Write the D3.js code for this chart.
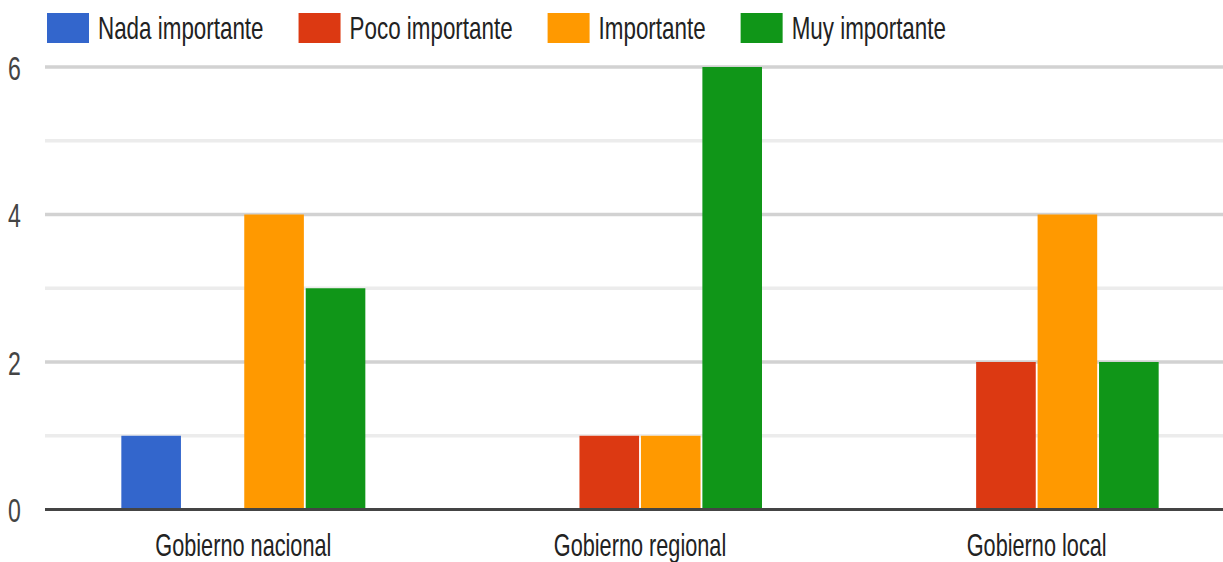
<!DOCTYPE html>
<html>
<head>
<meta charset="utf-8">
<script src="https://cdn.jsdelivr.net/npm/d3@7"></script>
<style>
  html, body { margin: 0; padding: 0; background: #fff; }
  svg { display: block; font-family: "Liberation Sans", Arial, sans-serif; }
</style>
</head>
<body>
<svg id="chart" width="1223" height="562"></svg>
<script>
// Categories (levels of government) and the count for each rating
const categories = ["Gobierno nacional", "Gobierno regional", "Gobierno local"];
const seriesNames = ["Nada importante", "Poco importante", "Importante", "Muy importante"];
const seriesColors = ["#3366cc", "#dc3912", "#ff9900", "#109618"];
const nadaImportante = [1, 0, 0];
const pocoImportante = [0, 1, 2];
const importante     = [4, 1, 4];
const muyImportante  = [3, 6, 2];
const yTickValues = [0, 2, 4, 6];

const seriesValues = [nadaImportante, pocoImportante, importante, muyImportante];

const svg = d3.select("#chart");
const W = 1223, H = 562;
const textScaleX = 0.70; // narrow lettering

const plot = { left: 45, right: 1235, top: 67, bottom: 509.5 };

const x0 = d3.scaleBand().domain(categories).range([plot.left, plot.right]).padding(0);
const groupW = 244;
const x1 = d3.scaleBand().domain(seriesNames).range([0, groupW]).paddingInner(0.03);
const y = d3.scaleLinear().domain([0, 6]).range([plot.bottom, plot.top]);

// gridlines: minor at odd values, major at labelled values
const gridVals = d3.range(1, 7);
svg.append("g").selectAll("line")
  .data(gridVals)
  .join("line")
  .attr("x1", plot.left).attr("x2", W)
  .attr("y1", d => y(d)).attr("y2", d => y(d))
  .attr("stroke", d => d % 2 === 0 ? "#d2d2d2" : "#ececec")
  .attr("stroke-width", 3.5);

// bars
const groups = svg.append("g").selectAll("g")
  .data(categories)
  .join("g")
  .attr("transform", c => `translate(${x0(c) + (x0.bandwidth() - groupW) / 2},0)`);

groups.selectAll("rect")
  .data((c, ci) => seriesNames.map((s, si) => ({ s, si, v: seriesValues[si][ci] })))
  .join("rect")
  .filter(d => d.v > 0)
  .attr("x", d => x1(d.s))
  .attr("width", x1.bandwidth())
  .attr("y", d => y(d.v))
  .attr("height", d => y(0) - y(d.v))
  .attr("fill", d => seriesColors[d.si]);

// baseline
svg.append("line")
  .attr("x1", plot.left).attr("x2", W)
  .attr("y1", y(0)).attr("y2", y(0))
  .attr("stroke", "#444").attr("stroke-width", 3);

// y axis labels (tick groups are placed by the axis; text sits inside them)
const yAxis = d3.axisLeft(y).tickValues(yTickValues).tickSize(0).tickFormat(d3.format("d"));
const yg = svg.append("g").attr("transform", `translate(${plot.left},0)`).call(yAxis);
yg.select(".domain").remove();
yg.selectAll(".tick text")
  .attr("x", 0).attr("y", 0).attr("dy", null)
  .attr("text-anchor", "start")
  .attr("font-size", 33).attr("fill", "#444")
  .attr("transform", `translate(${8 - plot.left},12) scale(${textScaleX},1)`);

// x axis labels
const xAxis = d3.axisBottom(x0).tickSize(0);
const xg = svg.append("g").attr("transform", `translate(0,${plot.bottom})`).call(xAxis);
xg.select(".domain").remove();
xg.selectAll(".tick text")
  .attr("x", 0).attr("y", 0).attr("dy", null)
  .attr("font-size", 31).attr("fill", "#222")
  .attr("transform", `translate(0,46) scale(${textScaleX},1)`);

// legend
const legend = svg.append("g");
let lx = 47;
seriesNames.forEach((name, i) => {
  const item = legend.append("g").attr("transform", `translate(${lx},0)`);
  item.append("rect").attr("x", 0).attr("y", 13).attr("width", 42).attr("height", 30)
    .attr("fill", seriesColors[i]);
  const t = item.append("text")
    .attr("font-size", 32).attr("fill", "#222")
    .attr("transform", `translate(51,39) scale(${textScaleX},1)`)
    .text(name);
  const tw = t.node().getComputedTextLength() * textScaleX;
  lx += 51 + tw + 35;
});
</script>
</body>
</html>
